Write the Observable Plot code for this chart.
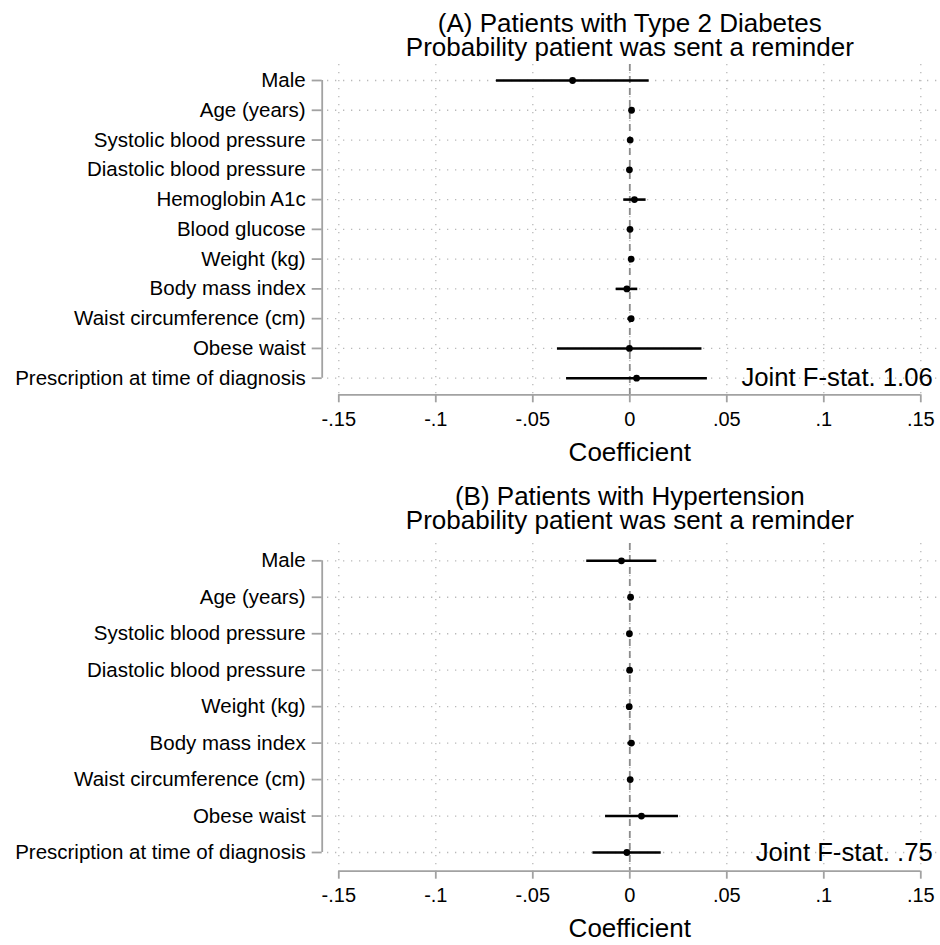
<!DOCTYPE html>
<html>
<head>
<meta charset="utf-8">
<script src="https://cdn.jsdelivr.net/npm/d3@7"></script>
<script src="https://cdn.jsdelivr.net/npm/@observablehq/plot@0.6"></script>
<style>
  html, body { margin: 0; padding: 0; background: #fff; }
  #chart { width: 940px; height: 945px; }
  #chart svg { display: block; }
</style>
</head>
<body>
<div id="chart"></div>
<script>
// Coefficient on x axis, shared ticks
const xTicks = [-0.15, -0.1, -0.05, 0, 0.05, 0.1, 0.15];
const xTickLabels = ["-.15", "-.1", "-.05", "0", ".05", ".1", ".15"];
const xTitle = "Coefficient";

// Panel A: patients with type 2 diabetes
const titleA = ["(A) Patients with Type 2 Diabetes", "Probability patient was sent a reminder"];
const labelsA = ["Male", "Age (years)", "Systolic blood pressure", "Diastolic blood pressure",
  "Hemoglobin A1c", "Blood glucose", "Weight (kg)", "Body mass index",
  "Waist circumference (cm)", "Obese waist", "Prescription at time of diagnosis"];
const coefA = [-0.0295, 0.0009, 0.0002, -0.0002, 0.0024, 0.0001, 0.0007, -0.0015, 0.0007, -0.0002, 0.0035];
const lowA  = [-0.0687, 0.0004, -0.0001, -0.0005, -0.0031, -0.0002, 0.0002, -0.0070, -0.0010, -0.0373, -0.0326];
const highA = [0.0100, 0.0014, 0.0005, 0.0001, 0.0084, 0.0004, 0.0012, 0.0041, 0.0024, 0.0372, 0.0400];
const fstatA = "Joint F-stat. 1.06";

// Panel B: patients with hypertension
const titleB = ["(B) Patients with Hypertension", "Probability patient was sent a reminder"];
const labelsB = ["Male", "Age (years)", "Systolic blood pressure", "Diastolic blood pressure",
  "Weight (kg)", "Body mass index", "Waist circumference (cm)", "Obese waist",
  "Prescription at time of diagnosis"];
const coefB = [-0.0043, 0.0004, -0.0002, -0.0001, -0.0003, 0.0008, 0.0002, 0.0060, -0.0015];
const lowB  = [-0.0222, 0.0001, -0.0004, -0.0003, -0.0006, -0.0010, 0.0000, -0.0125, -0.0190];
const highB = [0.0139, 0.0007, 0.0000, 0.0001, 0.0000, 0.0026, 0.0004, 0.0251, 0.0162];
const fstatB = "Joint F-stat. .75";

const FONT = "'Liberation Sans', Arial, Helvetica, sans-serif";
const AXIS_GRAY = "#a2a2a2";
const GRID_GRAY = "#b9b9b9";

function panel({title, labels, coef, low, high, fstat, height, marginTop, marginBottom, insetTop, insetBottom, titleTop}) {
  const rows = labels.map((label, i) => ({label, coef: coef[i], low: low[i], high: high[i]}));
  const first = labels[0];
  const last = labels[labels.length - 1];
  const insetLeft = 11.3;
  return Plot.plot({
    width: 940,
    height,
    marginTop,
    marginBottom,
    marginLeft: 327,
    marginRight: 0,
    style: {fontFamily: FONT, fontSize: "20.5px", color: "black", background: "white", overflow: "visible"},
    x: {domain: [xTicks[0], xTicks[xTicks.length - 1]], insetLeft, insetRight: 19.7},
    y: {type: "point", domain: labels, padding: 0, round: false, insetTop, insetBottom},
    marks: [
      // dotted grid
      Plot.gridY({stroke: GRID_GRAY, strokeOpacity: 1, strokeWidth: 1.3, strokeDasharray: "1.3,6.7"}),
      Plot.gridX({ticks: xTicks, stroke: GRID_GRAY, strokeOpacity: 1, strokeWidth: 1.3, strokeDasharray: "1.3,6.7"}),
      // reference line at zero
      Plot.ruleX([0], {stroke: "#8c8c8c", strokeWidth: 1.8, strokeDasharray: "7,5"}),
      // confidence intervals and point estimates
      Plot.ruleY(rows, {y: "label", x1: "low", x2: "high", stroke: "black", strokeWidth: 2.6}),
      Plot.dot(rows, {y: "label", x: "coef", r: 3.4, fill: "black", stroke: null}),
      // y axis with its spine
      Plot.ruleX([xTicks[0]], {y1: () => first, y2: () => last, dx: -(insetLeft + 5.3), stroke: AXIS_GRAY, strokeWidth: 1.8}),
      Plot.axisY({tickSize: 10, tickPadding: 6.5, dx: -5.3, stroke: AXIS_GRAY, strokeWidth: 1.8, fill: "black", fontSize: 20.5, label: null}),
      // x axis with its spine
      Plot.ruleY([last], {x1: () => xTicks[0], x2: () => xTicks[xTicks.length - 1], dy: insetBottom, stroke: AXIS_GRAY, strokeWidth: 1.8}),
      Plot.axisX({ticks: xTicks, tickFormat: (d, i) => xTickLabels[i], tickSize: 8, tickPadding: 8.5,
        stroke: AXIS_GRAY, strokeWidth: 1.8, fill: "black", fontSize: 20, label: null}),
      Plot.text([xTitle], {x: () => 0, frameAnchor: "bottom", lineAnchor: "middle", dy: 57.5, fontSize: 26, fill: "black"}),
      // panel title
      Plot.text([title.join("\n")], {x: () => 0, frameAnchor: "top", lineAnchor: "top", dy: -(marginTop - titleTop), lineHeight: 0.92, fontSize: 26, fill: "black"}),
      // joint test
      Plot.text([fstat], {x: () => xTicks[xTicks.length - 1], y: () => last, dx: 12, textAnchor: "end", fontSize: 25.7, fill: "black"})
    ]
  });
}

const chart = document.getElementById("chart");
chart.append(panel({
  title: titleA, labels: labelsA, coef: coefA, low: lowA, high: highA, fstat: fstatA,
  height: 472, marginTop: 64, marginBottom: 77.7, insetTop: 16, insetBottom: 16.6, titleTop: 15
}));
chart.append(panel({
  title: titleB, labels: labelsB, coef: coefB, low: lowB, high: highB, fstat: fstatB,
  height: 473, marginTop: 71, marginBottom: 74.3, insetTop: 17.3, insetBottom: 18.7, titleTop: 15.5
}));
</script>
</body>
</html>
